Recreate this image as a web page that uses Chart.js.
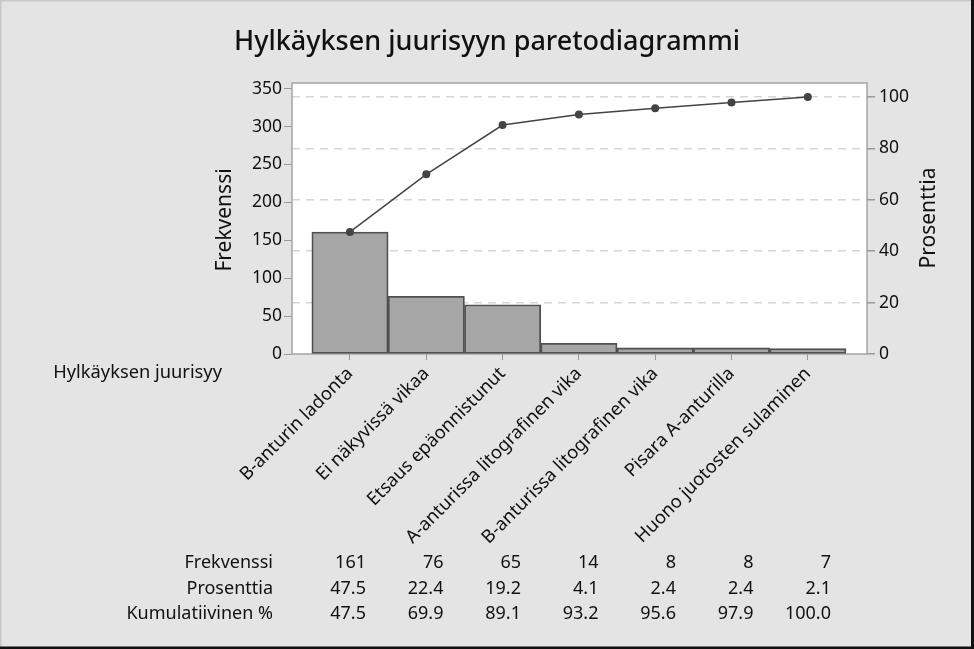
<!DOCTYPE html>
<html>
<head>
<meta charset="utf-8">
<script src="https://cdn.jsdelivr.net/npm/chart.js@4.4.0/dist/chart.umd.min.js"></script>
<style>
    html, body { margin: 0; padding: 0; background: #e4e4e4; }
    #wrap { width: 974px; height: 649px; }
</style>
</head>
<body>
<div id="wrap"><canvas id="pareto" width="974" height="649"></canvas></div>
<script>
// Pareto-tiedot
const categories = [
    'B-anturin ladonta',
    'Ei näkyvissä vikaa',
    'Etsaus epäonnistunut',
    'A-anturissa litografinen vika',
    'B-anturissa litografinen vika',
    'Pisara A-anturilla',
    'Huono juotosten sulaminen'
];
const frequencies = [161, 76, 65, 14, 8, 8, 7];
const percents = [47.5, 22.4, 19.2, 4.1, 2.4, 2.4, 2.1];
const cumulative = [47.5, 69.9, 89.1, 93.2, 95.6, 97.9, 100.0];
const rowLabels = ['Frekvenssi', 'Prosenttia', 'Kumulatiivinen %'];

const FONT = "'Noto Sans', sans-serif";
const TEXT = '#111';
const TICK = 17.5;
const LABEL = 18.3;
const total = frequencies.reduce((a, b) => a + b, 0);
const leftMax = 357.5;

// tausta, piirtoalue ja taulukko
const paretoDecor = {
    id: 'paretoDecor',
    beforeDraw(chart) {
        const { ctx, chartArea: a, width, height } = chart;
        ctx.save();
        ctx.fillStyle = '#e4e4e4';
        ctx.fillRect(0, 0, width, height);
        ctx.fillStyle = '#c8c8c8';
        ctx.fillRect(0, 0, width, 1.5);
        ctx.fillRect(0, 0, 1.5, height);
        ctx.fillStyle = '#111';
        ctx.fillRect(0, height - 2.5, width, 2.5);
        ctx.fillRect(width - 3, 0, 3, height);
        ctx.fillStyle = '#fff';
        ctx.fillRect(a.left, a.top, a.right - a.left, a.bottom - a.top);
        ctx.restore();
    },
    beforeDatasetsDraw(chart) {
        const { ctx, chartArea: a } = chart;
        ctx.save();
        ctx.strokeStyle = '#a4a4a4';
        ctx.lineWidth = 1.5;
        ctx.strokeRect(a.left, a.top, a.right - a.left, a.bottom - a.top);
        ctx.restore();
    },
    afterDraw(chart) {
        const { ctx } = chart;
        const x = chart.scales.x;
        ctx.save();
        ctx.fillStyle = TEXT;

        // akselien otsikot
        ctx.font = `21px ${FONT}`;
        ctx.textAlign = 'center';
        ctx.textBaseline = 'middle';
        [['Frekvenssi', 225, 220], ['Prosenttia', 929, 218]].forEach(([t, px, py]) => {
            ctx.save();
            ctx.translate(px, py);
            ctx.rotate(-Math.PI / 2);
            ctx.fillText(t, 0, 0);
            ctx.restore();
        });

        ctx.font = `${LABEL}px ${FONT}`;
        ctx.textAlign = 'right';
        ctx.fillText('Hylkäyksen juurisyy', 222, 373);

        // taulukko
        ctx.font = `18px ${FONT}`;
        const rows = [frequencies.map(String), percents.map(v => v.toFixed(1)), cumulative.map(v => v.toFixed(1))];
        const rowY = [563, 589, 614];
        rows.forEach((vals, r) => {
            ctx.fillText(rowLabels[r], 273, rowY[r]);
            vals.forEach((v, i) => {
                ctx.fillText(v, x.getPixelForValue(i) + 16 + i * 1.2, rowY[r]);
            });
        });
        ctx.restore();
    }
};

const chart = new Chart(document.getElementById('pareto'), {
    data: {
        datasets: [{
            type: 'line',
            label: 'Kumulatiivinen %',
            data: cumulative.map((v, i) => ({ x: i, y: v })),
            yAxisID: 'y2',
            borderColor: '#444',
            borderWidth: 1.5,
            pointRadius: 4,
            pointBackgroundColor: '#444',
            pointBorderWidth: 0,
            order: 0
        }, {
            type: 'bar',
            label: 'Frekvenssi',
            data: frequencies.map((v, i) => ({ x: i, y: v })),
            yAxisID: 'y',
            backgroundColor: '#a6a6a6',
            borderColor: '#505050',
            borderWidth: 1.8,
            borderSkipped: false,
            barPercentage: 1,
            categoryPercentage: 1,
            order: 1
        }]
    },
    options: {
        responsive: false,
        animation: false,
        layout: { padding: 0 },
        plugins: {
            legend: { display: false },
            tooltip: { enabled: false },
            title: {
                display: true,
                text: 'Hylkäyksen juurisyyn paretodiagrammi',
                color: TEXT,
                font: { family: FONT, size: 27, weight: '500' },
                padding: { top: 26, bottom: 24.6 }
            }
        },
        scales: {
            x: {
                type: 'linear',
                offset: false,
                min: -0.76,
                max: 6.776,
                afterBuildTicks: s => { s.ticks = categories.map((_, i) => ({ value: i })); },
                afterFit: s => { s.height = 295; },
                grid: { offset: false, drawOnChartArea: false, tickLength: 6, tickColor: '#999' },
                border: { display: false },
                ticks: {
                    autoSkip: false,
                    minRotation: 45,
                    maxRotation: 45,
                    padding: 3,
                    color: TEXT,
                    font: { family: FONT, size: LABEL },
                    callback: v => categories[v]
                }
            },
            y: {
                position: 'left',
                min: 0,
                max: leftMax,
                afterFit: s => { s.width = 292; },
                grid: { drawOnChartArea: false, tickLength: 8, tickColor: '#999' },
                border: { display: false },
                ticks: {
                    stepSize: 50,
                    includeBounds: false,
                    padding: 2,
                    color: TEXT,
                    font: { family: FONT, size: TICK }
                }
            },
            y2: {
                position: 'right',
                min: 0,
                max: leftMax / total * 100,
                afterFit: s => { s.width = 107; },
                grid: {
                    color: c => c.tick && c.tick.value === 0 ? 'rgba(0,0,0,0)' : '#d6d6d6',
                    lineWidth: 1.5,
                    tickLength: 8,
                    tickColor: '#999'
                },
                border: { display: false, dash: [8, 6] },
                ticks: {
                    stepSize: 20,
                    includeBounds: false,
                    padding: 4,
                    color: TEXT,
                    font: { family: FONT, size: TICK }
                }
            }
        }
    },
    plugins: [paretoDecor]
});
</script>
</body>
</html>
